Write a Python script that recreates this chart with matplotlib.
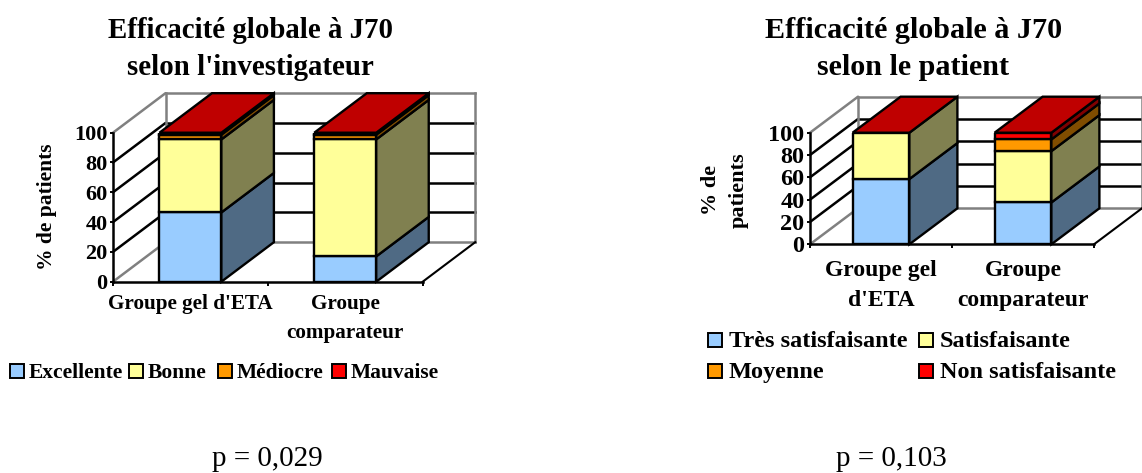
import matplotlib
matplotlib.use('Agg')
import matplotlib.pyplot as plt
from matplotlib.patches import Polygon, Rectangle

W, H = 1142, 473

categories_left = ["Groupe gel d'ETA", "Groupe\ncomparateur"]
categories_right = ["Groupe gel\nd'ETA", "Groupe\ncomparateur"]
yticks = [0, 20, 40, 60, 80, 100]

# % of patients, bottom to top
excellente = [46.5, 17]
bonne = [49, 78.5]
mediocre = [3.2, 3.2]
mauvaise = [1.3, 1.3]

tres_satisf = [58.5, 37.5]
satisf = [41.5, 46]
moyenne = [0, 10.5]
non_satisf = [0, 6]

labels_left = ['Excellente', 'Bonne', 'Médiocre', 'Mauvaise']
labels_right = ['Très satisfaisante', 'Satisfaisante', 'Moyenne', 'Non satisfaisante']

colors = ['#99CCFF', '#FFFF99', '#FF9900', '#FF0000']
side_colors = ['#4F6A84', '#808050', '#804D00', '#800000']
top_color = '#BF0000'

plt.rcParams['font.family'] = ['Liberation Serif']
plt.rcParams['font.weight'] = 'bold'
plt.rcParams['axes.labelweight'] = 'bold'

fig = plt.figure(figsize=(W / 100, H / 100), dpi=100)


def make_axes(x0, x1, y_bottom, y_top):
    return fig.add_axes([x0 / W, 1 - y_bottom / H, (x1 - x0) / W, (y_bottom - y_top) / H])


def stacked_3d(ax, series, cats, depth_px, ytick_fs, xlab_fs, xpad, bar_w=0.4):
    ax.set_xlim(0, 2)
    ax.set_ylim(0, 100)
    ax.patch.set_alpha(0)
    bbox_w = ax.get_position().width * W
    bbox_h = ax.get_position().height * H
    dx = depth_px[0] / bbox_w * 2
    dy = depth_px[1] / bbox_h * 100

    # walls and grid
    grey = '#808080'
    ax.add_patch(Rectangle((dx, dy), 2, 100, fc='white', ec='none', zorder=0, clip_on=False))
    for v in yticks:
        c = grey if v in (0, 100) else 'black'
        ax.plot([0, dx], [v, v + dy], color=c, lw=1.8, clip_on=False, zorder=1, solid_capstyle='round')
        ax.plot([dx, dx + 2], [v + dy, v + dy], color=c, lw=1.8, clip_on=False, zorder=1)
    ax.plot([dx, dx], [dy, 100 + dy], color=grey, lw=1.8, clip_on=False, zorder=1)
    ax.plot([dx + 2, dx + 2], [dy, 100 + dy], color=grey, lw=1.8, clip_on=False, zorder=1)
    ax.plot([2, 2 + dx], [0, dy], color='black', lw=1.5, clip_on=False, zorder=1)

    # bars
    z = 3
    for i, cx in enumerate([0.5, 1.5]):
        left = cx - bar_w / 2
        right = cx + bar_w / 2
        bottom = 0
        for vals, col, side in zip(series, colors, side_colors):
            v = vals[i]
            if v == 0:
                continue
            ax.bar(cx, v, bar_w, bottom=bottom, color=col, edgecolor='black', linewidth=1.7, zorder=z)
            ax.add_patch(Polygon([(right, bottom), (right, bottom + v),
                                  (right + dx, bottom + v + dy), (right + dx, bottom + dy)],
                                 closed=True, fc=side, ec='black', lw=1.7, zorder=z, clip_on=False))
            bottom += v
        ax.add_patch(Polygon([(left, bottom), (right, bottom),
                              (right + dx, bottom + dy), (left + dx, bottom + dy)],
                             closed=True, fc=top_color, ec='black', lw=1.7, zorder=z, clip_on=False))

    for s in ('top', 'right'):
        ax.spines[s].set_visible(False)
    for s in ('left', 'bottom'):
        ax.spines[s].set_linewidth(1.8)
        ax.spines[s].set_zorder(5)
    ax.set_yticks(yticks)
    ax.tick_params(axis='y', labelsize=ytick_fs, width=1.4, length=2, pad=2)
    ax.set_xticks([0, 1, 2])
    ax.set_xticklabels([])
    ax.tick_params(axis='x', which='major', width=1.4, length=3)
    ax.set_xticks([0.5, 1.5], minor=True)
    ax.set_xticklabels(cats, minor=True, fontsize=xlab_fs, linespacing=1.6)
    ax.tick_params(axis='x', which='minor', length=0, pad=xpad)


def legend_item(x, y, text, col, fs, gap=5, step=14):
    fig.add_artist(Rectangle((x / W, 1 - (y + step / 2) / H), step / W, step / H, fc=col, ec='black', lw=1.4,
                             transform=fig.transFigure))
    fig.text((x + step + gap) / W, 1 - (y + 1.5) / H, text, fontsize=fs, va='center', ha='left')


# left chart
ax1 = make_axes(113, 422.7, 281.7, 132.7)
stacked_3d(ax1, [excellente, bonne, mediocre, mauvaise], categories_left, (52.5, 39.5), 16, 15.2, 9)
ax1.set_ylabel('% de patients', fontsize=15.5)
ax1.yaxis.set_label_coords(-0.181, 0.5)

fig.text(250 / W, 1 - 30.5 / H, 'Efficacité globale à J70', fontsize=20.8, ha='center', va='center')
fig.text(250 / W, 1 - 67 / H, "selon l'investigateur", fontsize=20.8, ha='center', va='center')

for x, lab, col in zip([10, 129, 218, 332], labels_left, colors):
    legend_item(x, 371, lab, col, 15.5)
fig.text(267.5 / W, 1 - 459 / H, 'p = 0,029', fontsize=21, ha='center', va='center', fontweight='normal')

# right chart
ax2 = make_axes(810, 1094, 244.3, 132.7)
stacked_3d(ax2, [tres_satisf, satisf, moyenne, non_satisf], categories_right, (48, 36), 17.5, 17, 11)
ax2.set_ylabel('% de\npatients', fontsize=16, linespacing=1.5)
ax2.yaxis.set_label_coords(-0.216, 0.485)

fig.text(913.5 / W, 1 - 30.5 / H, 'Efficacité globale à J70', fontsize=21.7, ha='center', va='center')
fig.text(913.5 / W, 1 - 67 / H, 'selon le patient', fontsize=21.7, ha='center', va='center')

for x, y, lab, col in zip([708, 919, 708, 919], [340, 340, 371, 371], labels_right, colors):
    legend_item(x, y, lab, col, 17.5, gap=7)
fig.text(891.5 / W, 1 - 459 / H, 'p = 0,103', fontsize=21, ha='center', va='center', fontweight='normal')

fig.savefig('out.png', dpi=100)
